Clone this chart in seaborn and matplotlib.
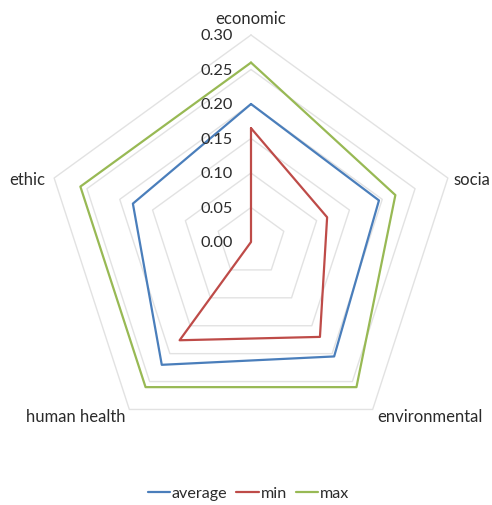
import numpy as np
import pandas as pd
import matplotlib
matplotlib.use("Agg")
import matplotlib.pyplot as plt
import seaborn as sns

# Radar chart data
categories = ["economic", "socia", "environmental", "human health", "ethic"]
average = [0.20, 0.195, 0.205, 0.22, 0.18]
minimum = [0.165, 0.116, 0.17, 0.176, 0.0]
maximum = [0.26, 0.22, 0.26, 0.26, 0.26]
series_names = ["average", "min", "max"]
ticks = [0.00, 0.05, 0.10, 0.15, 0.20, 0.25, 0.30]

colors = {"average": "#4A7EBB", "min": "#BE4B48", "max": "#98B954"}
grid_color = "#E2E2E2"
text_color = "#2B2B2B"
font = ["Lato", "DejaVu Sans"]

sns.set_theme(style="white")
plt.rcParams["font.family"] = font

W, H, DPI = 492, 506, 100
cx, cy = 251, 243            # chart centre in pixels
R_px = 207                   # radius of the outer ring (0.30)
rmax = ticks[-1]
k = R_px / rmax              # pixels per data unit
PT = 72 / DPI                # points per pixel

fig = plt.figure(figsize=(W / DPI, H / DPI), dpi=DPI)
ax = fig.add_axes([0, 0, 1, 1])
ax.set_xlim(-cx / k, (W - cx) / k)
ax.set_ylim(-(H - cy) / k, cy / k)
ax.axis("off")

n = len(categories)
theta = np.arange(n) * 2 * np.pi / n   # clockwise from the top


def to_xy(values):
    v = np.asarray(values, dtype=float)
    return v * np.sin(theta), v * np.cos(theta)


# pentagon grid rings
for t in ticks[1:]:
    gx, gy = to_xy([t] * n)
    ax.plot(np.r_[gx, gx[0]], np.r_[gy, gy[0]], color=grid_color, lw=1.0, zorder=1)

# long-form table of closed polygons
rows = []
for name, vals in zip(series_names, [average, minimum, maximum]):
    x, y = to_xy(vals)
    for i in list(range(n)) + [0]:
        rows.append({"series": name, "x": x[i], "y": y[i]})
df = pd.DataFrame(rows)

sns.lineplot(data=df, x="x", y="y", hue="series", hue_order=series_names,
             palette=colors, sort=False, estimator=None, lw=1.6,
             ax=ax, legend=True, zorder=3)
handles, labels = ax.get_legend_handles_labels()
ax.get_legend().remove()

# value labels along the top spoke
for t in ticks:
    ax.annotate(f"{t:.2f}", xy=(0, t), xytext=(-18 * PT, 0),
                textcoords="offset points", ha="right", va="center",
                fontsize=11.8, color=text_color)

# category labels just outside the outer ring
offsets = {
    "economic": ((0, 9), "center", "bottom"),
    "socia": ((6, -1), "left", "center"),
    "environmental": ((5, -7), "left", "center"),
    "human health": ((-4, -7), "right", "center"),
    "ethic": ((-9, -1), "right", "center"),
}
ox, oy = to_xy([rmax] * n)
for i, cat in enumerate(categories):
    (dx, dy), ha, va = offsets[cat]
    ax.annotate(cat, xy=(ox[i], oy[i]), xytext=(dx * PT, dy * PT),
                textcoords="offset points", ha=ha, va=va,
                fontsize=12, color=text_color)

fig.legend(handles, labels, loc="center", bbox_to_anchor=(0.505, 1 - 494 / H),
           ncol=3, frameon=False, fontsize=11.6, handlelength=1.4,
           handletextpad=0.1, columnspacing=0.55, labelcolor=text_color)

fig.savefig("out.png", dpi=DPI)
